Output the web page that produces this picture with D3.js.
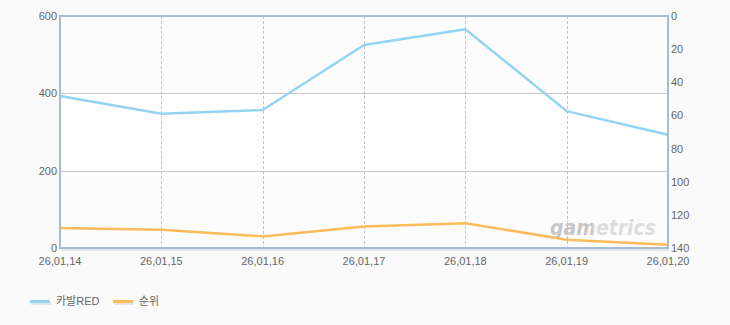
<!DOCTYPE html>
<html>
<head>
<meta charset="utf-8">
<script src="https://cdn.jsdelivr.net/npm/d3@7"></script>
<style>
  body { margin: 0; background: #fafafa; }
  text { font-family: "Liberation Sans", "Noto Sans CJK KR", sans-serif; }
</style>
</head>
<body>
<div id="chart"></div>
<script>
const dates = ['26,01,14', '26,01,15', '26,01,16', '26,01,17', '26,01,18', '26,01,19', '26,01,20']
const users = [393, 347, 357, 525, 566, 354, 293]
const ranks = [128, 129, 133, 127, 125, 135, 138]
const leftTicks = [0, 200, 400, 600]
const rightTicks = [0, 20, 40, 60, 80, 100, 120, 140]
const seriesNames = ['카발RED', '순위']
const seriesColors = ['#93d3f3', '#fdbb5a']

const width = 730
const height = 325
const margin = { top: 16, right: 62, bottom: 77, left: 60 }

const svg = d3.select('#chart').append('svg')
  .attr('width', width)
  .attr('height', height)

svg.append('rect').attr('width', width).attr('height', height).attr('fill', '#fafafa')

const x = d3.scalePoint().domain(dates).range([margin.left, width - margin.right])
const yL = d3.scaleLinear().domain([0, 600]).range([height - margin.bottom, margin.top])
const yR = d3.scaleLinear().domain([0, 140]).range([margin.top, height - margin.bottom])

// alternating bands
const bands = [[400, 600, '#fcfcfc'], [200, 400, '#ffffff'], [0, 200, '#fcfcfc']]
svg.append('g').selectAll('rect').data(bands).join('rect')
  .attr('x', margin.left)
  .attr('width', x.range()[1] - margin.left)
  .attr('y', d => yL(d[1]))
  .attr('height', d => yL(d[0]) - yL(d[1]))
  .attr('fill', d => d[2])

// horizontal grid
svg.append('g').selectAll('line').data([200, 400]).join('line')
  .attr('x1', margin.left).attr('x2', x.range()[1])
  .attr('y1', d => Math.round(yL(d)) + 0.5).attr('y2', d => Math.round(yL(d)) + 0.5)
  .attr('stroke', '#c8c8c8')

// vertical dashed grid
svg.append('g').selectAll('line').data(dates.slice(1, -1)).join('line')
  .attr('x1', d => Math.round(x(d)) + 0.5).attr('x2', d => Math.round(x(d)) + 0.5)
  .attr('y1', margin.top).attr('y2', yL(0))
  .attr('stroke', '#c4c4c4')
  .attr('stroke-dasharray', '3,2')

// watermark: one text, two tones via a hard-stop gradient
const grad = svg.append('defs').append('linearGradient')
  .attr('id', 'wmFill')
  .attr('gradientUnits', 'userSpaceOnUse')
  .attr('x1', 550).attr('x2', 656).attr('y1', 0).attr('y2', 0)
grad.append('stop').attr('offset', '41%').attr('stop-color', '#c6c6c6')
grad.append('stop').attr('offset', '41%').attr('stop-color', '#dddddd')

svg.append('text')
  .attr('x', 550).attr('y', 235)
  .attr('textLength', 106)
  .attr('lengthAdjust', 'spacingAndGlyphs')
  .attr('fill', 'url(#wmFill)')
  .style('font-family', '"DejaVu Sans", sans-serif')
  .style('font-size', '22px')
  .style('font-weight', 'bold')
  .style('font-style', 'italic')
  .text('gametrics')

// lines
const lineL = d3.line().x((d, i) => x(dates[i])).y(d => yL(d))
const lineR = d3.line().x((d, i) => x(dates[i])).y(d => yR(d))

svg.append('path').datum(ranks)
  .attr('d', lineR)
  .attr('fill', 'none')
  .attr('stroke', seriesColors[1])
  .attr('stroke-width', 2.5)
  .attr('stroke-linejoin', 'round')

svg.append('path').datum(users)
  .attr('d', lineL)
  .attr('fill', 'none')
  .attr('stroke', seriesColors[0])
  .attr('stroke-width', 2.5)
  .attr('stroke-linejoin', 'round')

// frame
const x0 = margin.left
const x1 = x.range()[1]
svg.append('line').attr('x1', x0).attr('x2', x1 + 1).attr('y1', yL(0) + 2).attr('y2', yL(0) + 2)
  .attr('stroke', '#e2e6ea').attr('stroke-width', 2)
svg.append('rect')
  .attr('x', x0).attr('y', margin.top)
  .attr('width', x1 - x0).attr('height', yL(0) - margin.top)
  .attr('fill', 'none')
  .attr('stroke', '#a9bccf')
  .attr('stroke-width', 2)

// left axis labels
svg.append('g').selectAll('text').data(leftTicks).join('text')
  .attr('x', x0 - 3).attr('y', d => yL(d) + 4)
  .attr('text-anchor', 'end')
  .attr('fill', '#666')
  .style('font-size', '11px')
  .text(d => d)

// right axis labels
svg.append('g').selectAll('text').data(rightTicks).join('text')
  .attr('x', x1 + 3).attr('y', d => yR(d) + 4)
  .attr('text-anchor', 'start')
  .attr('fill', '#666')
  .style('font-size', '11px')
  .text(d => d)

// x labels
svg.append('g').selectAll('text').data(dates).join('text')
  .attr('x', d => x(d)).attr('y', yL(0) + 17)
  .attr('text-anchor', 'middle')
  .attr('fill', '#666')
  .style('font-size', '11px')
  .text(d => d)

// legend
const legend = svg.append('g').selectAll('g').data(seriesNames).join('g')
  .attr('transform', (d, i) => `translate(${30 + i * 83},301)`)
legend.append('rect').attr('x', 1).attr('y', 1).attr('width', 20).attr('height', 3).attr('fill', '#e4e4e4')
legend.append('rect').attr('x', 0).attr('y', -1).attr('width', 20).attr('height', 3).attr('fill', (d, i) => seriesColors[i])
legend.append('text')
  .attr('x', 26).attr('y', 4)
  .attr('fill', '#666')
  .style('font-size', '11px')
  .text(d => d)
</script>
</body>
</html>
